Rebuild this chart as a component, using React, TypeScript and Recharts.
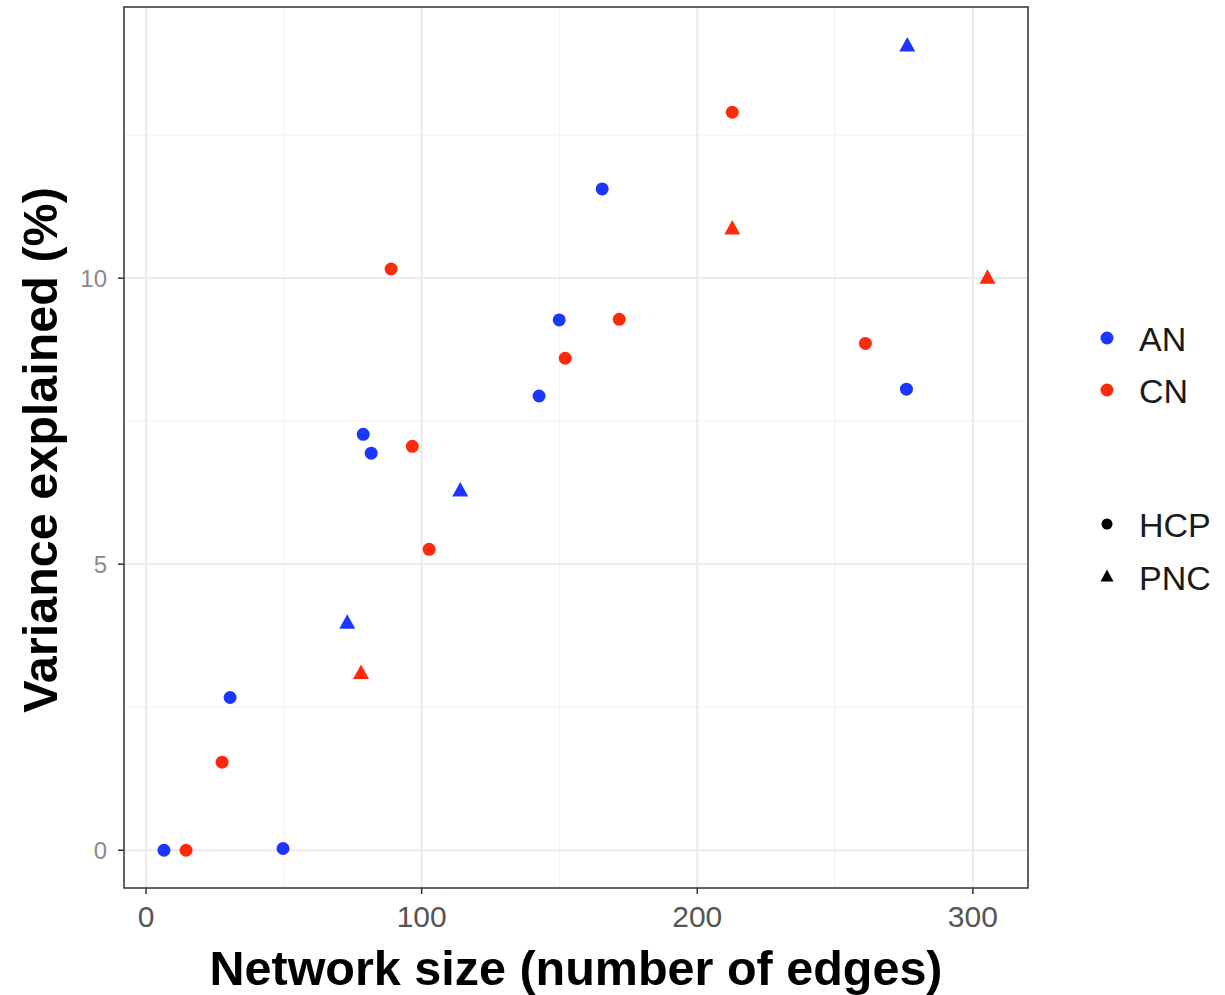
import React from "react";
import {
  CartesianGrid,
  ReferenceArea,
  Scatter,
  ScatterChart,
  XAxis,
  YAxis,
} from "recharts";

type Pt = { edges: number; variance: number };

const anHcp: Pt[] = [
  { edges: 6.5, variance: 0 },
  { edges: 30.5, variance: 2.67 },
  { edges: 49.7, variance: 0.03 },
  { edges: 78.8, variance: 7.27 },
  { edges: 81.7, variance: 6.94 },
  { edges: 142.6, variance: 7.94 },
  { edges: 149.9, variance: 9.27 },
  { edges: 165.5, variance: 11.56 },
  { edges: 275.9, variance: 8.06 },
];
const anPnc: Pt[] = [
  { edges: 73, variance: 3.97 },
  { edges: 114, variance: 6.28 },
  { edges: 276.2, variance: 14.06 },
];
const cnHcp: Pt[] = [
  { edges: 14.5, variance: 0 },
  { edges: 27.6, variance: 1.54 },
  { edges: 88.9, variance: 10.16 },
  { edges: 96.6, variance: 7.06 },
  { edges: 102.7, variance: 5.26 },
  { edges: 152.1, variance: 8.6 },
  { edges: 171.7, variance: 9.28 },
  { edges: 212.7, variance: 12.9 },
  { edges: 261, variance: 8.86 },
];
const cnPnc: Pt[] = [
  { edges: 78, variance: 3.09 },
  { edges: 212.7, variance: 10.86 },
  { edges: 305.3, variance: 10.0 },
];

const xTicks = [0, 100, 200, 300];
const yTicks = [0, 5, 10];
const xMinor = [50, 150, 250];
const yMinor = [2.5, 7.5, 12.5];

const BLUE = "#1c36ff";
const RED = "#ff2a0c";
const FONT = "'Liberation Sans', Arial, Helvetica, sans-serif";

const dot = (color: string) => (props: any) => (
  <circle cx={props.cx} cy={props.cy} r={6.5} fill={color} />
);
const tri = (color: string) => (props: any) => {
  const { cx, cy } = props;
  return (
    <polygon
      points={`${cx},${cy - 9} ${cx - 8},${cy + 5.5} ${cx + 8},${cy + 5.5}`}
      fill={color}
    />
  );
};

export default function App() {
  return (
    <div style={{ position: "absolute", left: 0, top: 0, width: 1225, height: 995, background: "#fff", fontFamily: FONT }}>
      <ScatterChart width={1225} height={995} margin={{ top: 7, right: 197, bottom: 0, left: 0 }}>
        <CartesianGrid stroke="#f3f3f3" strokeWidth={1.2} horizontalValues={yMinor} verticalValues={xMinor} />
        <CartesianGrid stroke="#ebebeb" strokeWidth={2.2} horizontalValues={yTicks} verticalValues={xTicks} />
        <XAxis
          type="number"
          dataKey="edges"
          domain={[-8, 320]}
          ticks={xTicks}
          height={107}
          axisLine={false}
          tickLine={{ stroke: "#333", strokeWidth: 1.5 }}
          tickSize={6}
          tickMargin={12}
          tick={{ fill: "#555", fontSize: 30, fontFamily: FONT }}
        />
        <YAxis
          type="number"
          dataKey="variance"
          domain={[-0.66, 14.74]}
          ticks={yTicks}
          width={124}
          axisLine={false}
          tickLine={{ stroke: "#333", strokeWidth: 1.5 }}
          tickSize={6}
          tickMargin={11}
          tick={{ fill: "#8a8a8a", fontSize: 24, fontFamily: FONT }}
        />
        <ReferenceArea x1={-8} x2={320} y1={-0.66} y2={14.74} fill="none" stroke="#333" strokeWidth={1.5} />
        <Scatter data={anHcp} shape={dot(BLUE)} isAnimationActive={false} />
        <Scatter data={cnHcp} shape={dot(RED)} isAnimationActive={false} />
        <Scatter data={anPnc} shape={tri(BLUE)} isAnimationActive={false} />
        <Scatter data={cnPnc} shape={tri(RED)} isAnimationActive={false} />
      </ScatterChart>

      <div style={{ position: "absolute", left: 124, width: 904, top: 942, textAlign: "center", fontSize: 48.5, fontWeight: "bold", color: "#000", lineHeight: "52px", whiteSpace: "nowrap" }}>
        Network size (number of edges)
      </div>
      <div style={{ position: "absolute", left: 40, top: 450, width: 0, height: 0 }}>
        <div style={{ position: "absolute", left: -300, top: -26, width: 600, textAlign: "center", transform: "rotate(-90deg)", fontSize: 48.5, fontWeight: "bold", color: "#000", lineHeight: "52px", whiteSpace: "nowrap" }}>
          Variance explained (%)
        </div>
      </div>

      <svg style={{ position: "absolute", left: 1085, top: 300 }} width={140} height={310}>
        <circle cx={22} cy={38} r={6.5} fill={BLUE} />
        <circle cx={22} cy={90} r={6.5} fill={RED} />
        <circle cx={22} cy={224} r={5.5} fill="#000" />
        <polygon points={`22,${277 - 7.5} ${22 - 6.5},${277 + 4.5} ${22 + 6.5},${277 + 4.5}`} fill="#000" />
        <g fontFamily={FONT} fontSize={34} fill="#1a1a1a">
          <text x={54} y={39} dominantBaseline="central">AN</text>
          <text x={54} y={91} dominantBaseline="central">CN</text>
          <text x={54} y={225} dominantBaseline="central">HCP</text>
          <text x={54} y={278} dominantBaseline="central">PNC</text>
        </g>
      </svg>
    </div>
  );
}
